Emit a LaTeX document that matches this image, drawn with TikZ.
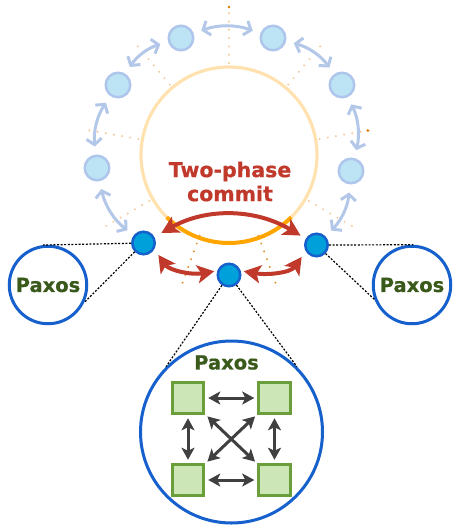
\documentclass[tikz,border=0pt]{standalone}
\usepackage{fontspec}
\setmainfont{DejaVu Sans}
\newfontfamily\heavyfont{DejaVu Sans}[BoldFeatures={FakeBold=0.6}]
\usetikzlibrary{arrows.meta,calc}
\definecolor{ringfill}{HTML}{BDE4F4}
\definecolor{ringdraw}{HTML}{AEC6EC}
\definecolor{ringarr}{HTML}{B3C8E8}
\definecolor{darkfill}{HTML}{00A0DA}
\definecolor{bluedraw}{HTML}{1560CC}
\definecolor{peach}{HTML}{FFE2B0}
\definecolor{orangearc}{HTML}{FFA500}
\definecolor{lightdot}{HTML}{F4C898}
\definecolor{darkdot}{HTML}{E0902A}
\definecolor{enddot}{HTML}{E07800}
\definecolor{redarr}{HTML}{C0392B}
\definecolor{paxgreen}{HTML}{3A5A1C}
\definecolor{sqfill}{HTML}{CCE6B8}
\definecolor{sqdraw}{HTML}{6A9E3A}
\definecolor{grayarr}{HTML}{404040}
\begin{document}
\begin{tikzpicture}[x=1pt,y=-1pt,
  ringnode/.style={circle,draw=ringdraw,fill=ringfill,line width=2.5pt,minimum size=24.5pt,inner sep=0pt},
  shardnode/.style={circle,draw=bluedraw,fill=darkfill,line width=2.5pt,minimum size=22.5pt,inner sep=0pt},
  paxcircle/.style={circle,draw=bluedraw,fill=white,line width=3pt,inner sep=0pt},
  paxtext/.style={text=paxgreen,font=\heavyfont\fontsize{19.5}{22}\selectfont\bfseries},
  ringlink/.style={draw=ringarr,line width=3pt,{Straight Barb[length=6pt,width=15pt]}-{Straight Barb[length=6pt,width=15pt]},shorten <=8pt,shorten >=8pt},
  redlink/.style={draw=redarr,line width=4pt,{Stealth[length=17pt,width=18pt,inset=4pt]}-{Stealth[length=17pt,width=18pt,inset=4pt]}},
  graylink/.style={draw=grayarr,line width=3pt,{Stealth[length=12pt,width=13pt,inset=3pt]}-{Stealth[length=12pt,width=13pt,inset=3pt]},shorten <=3pt,shorten >=3pt},
  sqnode/.style={rectangle,draw=sqdraw,fill=sqfill,line width=3pt,minimum size=31.5pt,inner sep=0pt},
  lightrad/.style={draw=lightdot,line width=2.2pt,line cap=round,dash pattern=on 0pt off 8.3pt},
  darkrad/.style={draw=darkdot,line width=2.2pt,line cap=round,dash pattern=on 0pt off 8.3pt},
  tangline/.style={draw=black,line width=1.2pt,dash pattern=on 2pt off 1.6pt}
]
\useasboundingbox (0,0) rectangle (453,525);
\coordinate (C) at (229,155);
% radial dotted lines
\foreach \a in {90,130,170,210,330,10,50}
  \draw[lightrad] ($(C)+(\a:92pt)$) -- ($(C)+(\a:147pt)$);
\foreach \a in {250,290}
  \draw[darkrad] ($(C)+(\a:86pt)$) -- ($(C)+(\a:137pt)$);
\fill[enddot] ($(C)+(90:148pt)$) circle (1.4pt);
\fill[enddot] ($(C)+(10:141pt)$) circle (1.4pt);
% two-phase commit circle
\draw[peach,line width=3.2pt] (C) circle (88pt);
\draw[orangearc,line width=4pt] ($(C)+(225:88pt)$) arc[start angle=225,end angle=315,radius=88pt];
\node[text=redarr,font=\heavyfont\fontsize{20.5}{24}\selectfont\bfseries,align=center,inner sep=0pt] (tpc) at (230,181.5) {Two-phase\\commit};
% ring nodes
\node[ringnode] (n190) at (97,168) {};
\node[ringnode] (n150) at (118,85) {};
\node[ringnode] (n110) at (181,38) {};
\node[ringnode] (n70) at (273,38) {};
\node[ringnode] (n30) at (342,85) {};
\node[ringnode] (n350) at (351,171) {};
\node[shardnode] (L) at (143.5,243) {};
\node[shardnode] (M) at (229,275) {};
\node[shardnode] (R) at (316.5,245) {};
% ring links
\draw[ringlink] (L) to[bend left=20] (n190);
\draw[ringlink] (n190) to[bend left=20] (n150);
\draw[ringlink] (n150) to[bend left=20] (n110);
\draw[ringlink] (n110) to[bend left=20] (n70);
\draw[ringlink] (n70) to[bend left=20] (n30);
\draw[ringlink] (n30) to[bend left=20] (n350);
\draw[ringlink] (n350) to[bend left=20] (R);
% red links
\draw[redlink,shorten <=8pt,shorten >=6pt] (L) to[bend left=30] (R);
\draw[redlink,shorten <=7pt,shorten >=3pt] (L.-30) to[out=-55,in=190] (M.160);
\draw[redlink,shorten <=3pt,shorten >=7pt] (M.20) to[out=-10,in=235] (R.210);
% Paxos circles
\node[paxcircle,minimum size=77.5pt] (P1) at (48,285) {};
\node[paxtext] at (P1) {Paxos};
\node[paxcircle,minimum size=77.5pt] (P2) at (412,285) {};
\node[paxtext] at (P2) {Paxos};
\node[paxcircle,minimum size=182pt] (B) at (231.5,432) {};
\node[paxtext] (bt) at (226.5,362.5) {Paxos};
\draw[tangline] (L) -- (P1.97);
\draw[tangline] (L) -- (P1.-26);
\draw[tangline] (R) -- (P2.88);
\draw[tangline] (R) -- (P2.201);
\draw[tangline] (M) -- (B.135);
\draw[tangline] (M) -- (B.45);
% squares
\node[sqnode] (s1) at (188,398) {};
\node[sqnode] (s2) at (274.5,398) {};
\node[sqnode] (s3) at (188,480) {};
\node[sqnode] (s4) at (274.5,480) {};
\draw[graylink] (s1) -- (s2);
\draw[graylink] (s3) -- (s4);
\draw[graylink] (s1) -- (s3);
\draw[graylink] (s2) -- (s4);
\draw[graylink] (s1) -- (s4);
\draw[graylink] (s2) -- (s3);
\end{tikzpicture}
\end{document}
